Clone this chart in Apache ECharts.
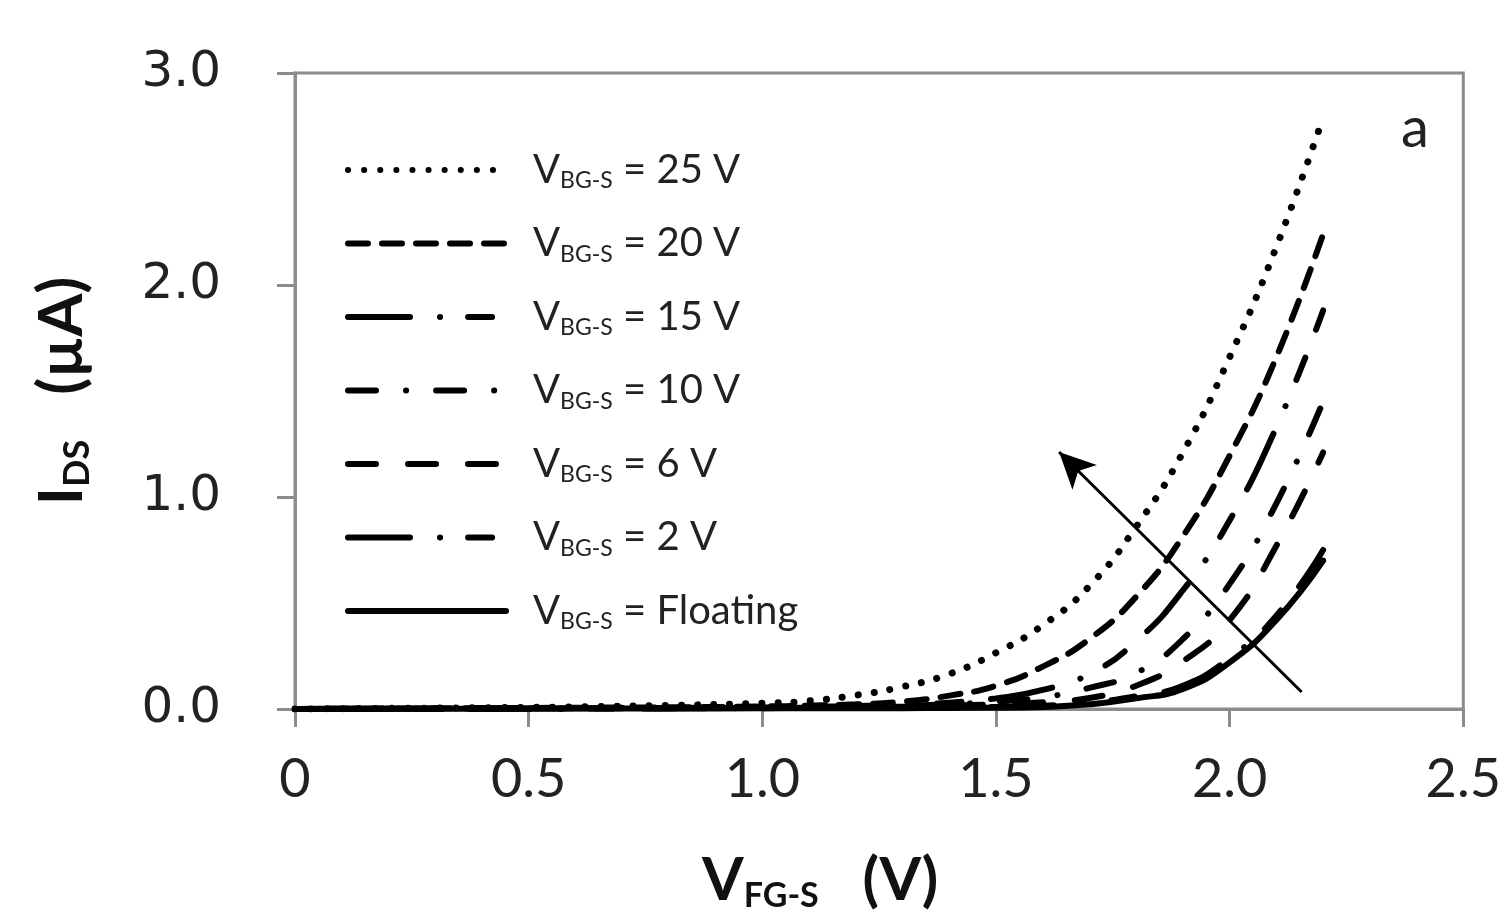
<!DOCTYPE html>
<html>
<head>
<meta charset="utf-8">
<script src="https://cdn.jsdelivr.net/npm/echarts@6/dist/echarts.min.js"></script>
<style>
  html, body { margin: 0; padding: 0; background: #fff; }
  #chart { width: 1504px; height: 918px; }
</style>
</head>
<body>
<div id="chart"></div>
<script>
// V_FG-S sweep (V)
var vfg = [0, 0.2, 0.4, 0.6, 0.8, 1.0, 1.1, 1.2, 1.3, 1.4, 1.5, 1.6, 1.7, 1.8, 1.9, 2.0, 2.1, 2.2];
// I_DS (uA) per back gate bias
var i25 = [0, 0.003, 0.006, 0.01, 0.017, 0.027, 0.038, 0.065, 0.105, 0.165, 0.265, 0.395, 0.58, 0.86, 1.21, 1.66, 2.18, 2.79];
var i20 = [0, 0.002, 0.004, 0.006, 0.008, 0.012, 0.016, 0.022, 0.035, 0.063, 0.11, 0.20, 0.33, 0.53, 0.815, 1.195, 1.66, 2.24];
var i15 = [0, 0.001, 0.002, 0.003, 0.005, 0.007, 0.01, 0.014, 0.02, 0.03, 0.05, 0.09, 0.165, 0.32, 0.56, 0.89, 1.33, 1.88];
var i10 = [0, 0.001, 0.002, 0.003, 0.004, 0.005, 0.007, 0.01, 0.015, 0.022, 0.035, 0.055, 0.10, 0.17, 0.33, 0.59, 0.97, 1.45];
var i6  = [0, 0.001, 0.002, 0.003, 0.004, 0.005, 0.006, 0.008, 0.011, 0.016, 0.022, 0.032, 0.052, 0.11, 0.225, 0.42, 0.77, 1.21];
var i2  = [0, 0.001, 0.001, 0.002, 0.003, 0.004, 0.005, 0.006, 0.007, 0.008, 0.01, 0.015, 0.03, 0.06, 0.11, 0.24, 0.44, 0.75];
var iF  = [0, 0.001, 0.001, 0.002, 0.002, 0.003, 0.003, 0.004, 0.004, 0.005, 0.006, 0.01, 0.022, 0.05, 0.095, 0.22, 0.42, 0.70];

var biasNames = ['25 V', '20 V', '15 V', '10 V', '6 V', '2 V', 'Floating'];
var curves = [i25, i20, i15, i10, i6, i2, iF];
var dashes = [
    [0.1, 16],
    [20, 14],
    [62, 30, 0.1, 28, 24, 30],
    [28, 30, 0.1, 30],
    [28, 32],
    [62, 30, 0.1, 28, 24, 30],
    'solid'
];
var widths = [7, 6, 6, 6, 6, 6, 6];

// arrow (annotation) from lower right to upper left
var arrowFrom = [2.154, 0.08];
var arrowTo = [1.635, 1.212];

var myChart = echarts.init(document.getElementById('chart'));

var series = [];
for (var k = 0; k < curves.length; k++) {
    var pts = [];
    for (var i = 0; i < vfg.length; i++) {
        pts.push([vfg[i], curves[k][i]]);
    }
    series.push({
        name: biasNames[k],
        type: 'line',
        data: pts,
        symbol: 'none',
        smooth: 0.5,
        color: '#000',
        lineStyle: {
            color: '#000',
            width: widths[k],
            type: dashes[k],
            cap: 'round'
        },
        z: 3
    });
}
series[series.length - 1].markLine = {
    silent: true,
    symbol: ['none', 'arrow'],
    symbolSize: [26, 36],
    label: { show: false },
    lineStyle: { color: '#000', width: 3, type: 'solid' },
    data: [[{ coord: arrowFrom }, { coord: arrowTo }]],
    z: 4
};

myChart.setOption({
    animation: false,
    backgroundColor: '#fff',
    title: {
        text: 'a',
        left: 1396,
        top: 96,
        textStyle: { fontFamily: 'Lato', fontSize: 56, fontWeight: 'normal', color: '#222' }
    },
    grid: {
        left: 295, right: 39, top: 73, bottom: 204,
        show: true,
        borderColor: '#8c8c8c',
        borderWidth: 3
    },
    legend: {
        orient: 'vertical',
        left: 340,
        top: 145,
        itemWidth: 158,
        itemHeight: 24,
        itemGap: 31,
        selectedMode: false,
        data: biasNames,
        itemStyle: { opacity: 0 },
        lineStyle: { width: 6, cap: 'round' },
        formatter: function (name) {
            return '{v|V}{s|BG-S}{v| = ' + name + '}';
        },
        textStyle: {
            padding: [0, 0, 0, 22],
            rich: {
                v: { fontFamily: 'Lato', fontSize: 40, color: '#222', lineHeight: 50 },
                s: { fontFamily: 'Lato', fontSize: 23, color: '#222', padding: [22, 0, 0, 0] }
            }
        }
    },
    xAxis: {
        type: 'value',
        min: 0, max: 2.5, interval: 0.5,
        name: '{b|V}{bs|FG-S}{b|   (V)}',
        nameLocation: 'middle',
        nameGap: 140,
        nameTextStyle: {
            padding: [0, 118, 0, 0],
            rich: {
                b: { fontFamily: 'Lato', fontWeight: 'bold', fontSize: 60, color: '#111' },
                bs: { fontFamily: 'Lato', fontWeight: 'bold', fontSize: 34, color: '#111', padding: [30, 0, 0, 0] }
            }
        },
        axisLine: { show: true, lineStyle: { color: '#8c8c8c', width: 3 } },
        axisTick: { show: true, length: 18, lineStyle: { color: '#8c8c8c', width: 3 } },
        splitLine: { show: false },
        axisLabel: {
            margin: 44,
            fontFamily: 'Lato', fontSize: 54, color: '#222',
            formatter: function (v) { return v === 0 ? '0' : v.toFixed(1); }
        }
    },
    yAxis: {
        type: 'value',
        min: 0, max: 3, interval: 1,
        name: '{b|I}{bs|DS}{b|   (µA)}',
        nameLocation: 'middle',
        nameGap: 200,
        nameTextStyle: {
            rich: {
                b: { fontFamily: 'Lato', fontWeight: 'bold', fontSize: 62, color: '#111' },
                bs: { fontFamily: 'Lato', fontWeight: 'bold', fontSize: 36, color: '#111', padding: [30, 0, 0, 0] }
            }
        },
        axisLine: { show: true, lineStyle: { color: '#8c8c8c', width: 3 } },
        axisTick: { show: true, length: 18, lineStyle: { color: '#8c8c8c', width: 3 } },
        splitLine: { show: false },
        axisLabel: {
            margin: 74,
            fontFamily: 'DejaVu Sans', fontSize: 50, color: '#222',
            padding: [12, 0, 0, 0],
            formatter: function (v) { return v.toFixed(1); }
        }
    },
    series: series
});
</script>
</body>
</html>
